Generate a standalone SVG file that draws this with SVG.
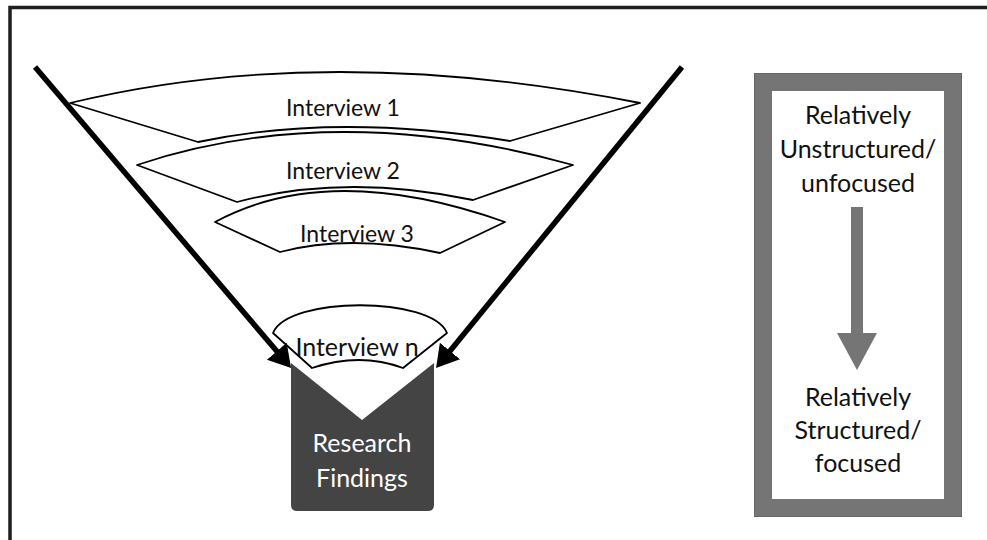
<svg xmlns="http://www.w3.org/2000/svg" width="987" height="540" viewBox="0 0 987 540">
<style>
.band{fill:#fff;stroke:#000;stroke-width:1.8;stroke-linejoin:round}
.lbl{font-family:Lato,"Open Sans",sans-serif;font-size:23px;fill:#111;text-anchor:middle}
.lbln{font-family:Lato,"Open Sans",sans-serif;font-size:25px;fill:#111;text-anchor:middle}
.side{font-family:Lato,"Open Sans",sans-serif;font-size:25px;fill:#111;text-anchor:middle}
.wlbl{font-family:Lato,"Open Sans",sans-serif;font-size:25px;fill:#fff;text-anchor:middle}
.funnel{stroke:#000;stroke-width:5.5;fill:none;marker-end:url(#ah)}
</style>
<defs>
<marker id="ah" markerUnits="userSpaceOnUse" markerWidth="24" markerHeight="28" refX="8" refY="13" orient="auto">
<path d="M0,0 L22,13 L0,26 Z" fill="#000"/>
</marker>
</defs>
<rect x="0" y="0" width="987" height="540" fill="#fff"/>
<path d="M10 540 V7.5 H987" fill="none" stroke="#1e1e1e" stroke-width="3.5"/>

<g id="research-findings">
<path d="M291 363 L362 420 L434 363 L434 505 Q434 511 428 511 L297 511 Q291 511 291 505 Z" fill="#444"/>
<text class="wlbl" x="362" y="452">Research</text>
<text class="wlbl" x="362" y="487">Findings</text>
</g>

<g id="interview-1">
<path class="band" d="M70 103 Q325 41 640 103 L510 141 Q336 112.5 198 142 Z"/>
<text class="lbl" x="343" y="116">Interview 1</text>
</g>
<g id="interview-2">
<path class="band" d="M137 165 Q335 99 573 165 L473 200 Q345 173 237 202 Z"/>
<text class="lbl" x="343" y="179">Interview 2</text>
</g>
<g id="interview-3">
<path class="band" d="M215 222 Q330 160 505 222 L440 253 Q350 233.5 280 252 Z"/>
<text class="lbl" x="357" y="242">Interview 3</text>
</g>
<g id="interview-n">
<path class="band" d="M273 333 C288 296 432 296 447 333 L403 368 Q360 352 312 368 Z"/>
<text class="lbln" x="357" y="356">Interview n</text>
</g>

<g id="connectors">
<path class="funnel" d="M35 67 L282 357.3"/>
<path class="funnel" d="M682 67 L444.9 357.2"/>
</g>

<g id="scale-box">
<rect x="763" y="82" width="190" height="426" fill="#fff" stroke="#757575" stroke-width="18"/>
<rect x="754.5" y="73.5" width="207" height="443" fill="none" stroke="#666" stroke-width="1"/>
<text class="side" x="858" y="124">Relatively</text>
<text class="side" x="858" y="158">Unstructured/</text>
<text class="side" x="858" y="192">unfocused</text>
<polygon points="851,207 863,207 863,333 877,333 857,370 837,333 851,333" fill="#757575"/>
<text class="side" x="858" y="406">Relatively</text>
<text class="side" x="858" y="439">Structured/</text>
<text class="side" x="858" y="472">focused</text>
</g>
</svg>
